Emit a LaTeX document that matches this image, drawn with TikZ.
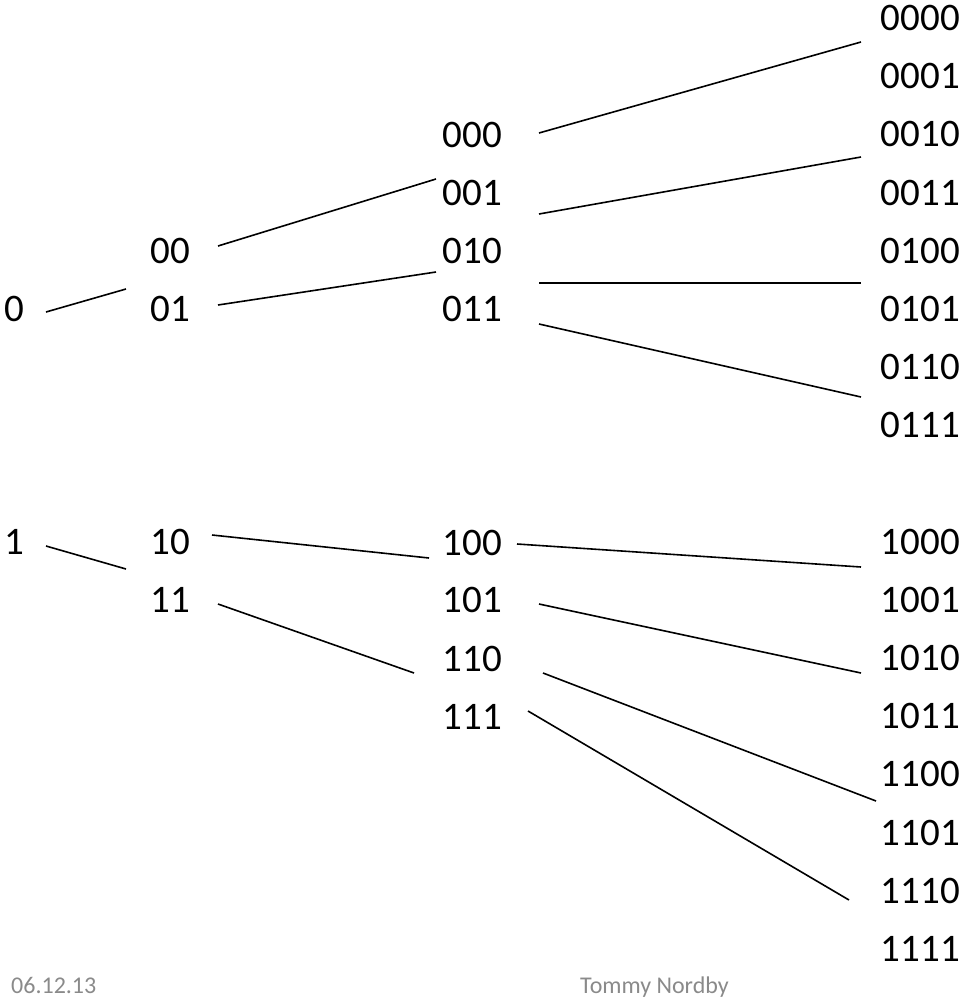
\documentclass[tikz,border=0pt]{standalone}
\usepackage{fontspec}
\setmainfont{Carlito}
\definecolor{footgray}{HTML}{8A8A8A}
\begin{document}
\begin{tikzpicture}[x=1pt,y=-1pt,
  lbl/.style={anchor=east, inner sep=0pt, font=\fontsize{39}{47}\selectfont},
  edge/.style={line width=1.6pt},
  foot/.style={inner sep=0pt, anchor=base west, text=footgray, font=\fontsize{24}{28}\selectfont}]
\useasboundingbox (0,0) rectangle (960,999);
% column 1
\node[lbl] (n0) at (24,309) {0};
\node[lbl] (n1) at (24,542) {1};
% column 2
\node[lbl] (n00) at (190,251) {00};
\node[lbl] (n01) at (190,309) {01};
\node[lbl] (n10) at (190,542) {10};
\node[lbl] (n11) at (190,600) {11};
% column 3
\node[lbl] (n000) at (502,134.5) {000};
\node[lbl] (n001) at (502,192.5) {001};
\node[lbl] (n010) at (502,250.5) {010};
\node[lbl] (n011) at (502,309) {011};
\node[lbl] (n100) at (502,542.5) {100};
\node[lbl] (n101) at (502,600) {101};
\node[lbl] (n110) at (502,659) {110};
\node[lbl] (n111) at (502,716.5) {111};
% column 4
\foreach \t [count=\i from 0] in {0000,0001,0010,0011,0100,0101,0110,0111}
  \node[lbl] (r\t) at (960,18+58.2*\i) {\t};
\foreach \t [count=\i from 0] in {1000,1001,1010,1011,1100,1101,1110,1111}
  \node[lbl] (r\t) at (960,542+58.1*\i) {\t};
% footer
\node[foot] (date) at (11,993) {06.12.13};
\node[foot] (author) at (580,993) {Tommy Nordby};
% connector end points
\coordinate (a1) at (46,312);  \coordinate (b1) at (126,289);
\coordinate (a2) at (218,246); \coordinate (b2) at (436,179);
\coordinate (a3) at (218,305); \coordinate (b3) at (436,272);
\coordinate (a4) at (539,133); \coordinate (b4) at (861,42);
\coordinate (a5) at (539,214); \coordinate (b5) at (861,157);
\coordinate (a6) at (539,283); \coordinate (b6) at (861,283);
\coordinate (a7) at (539,324); \coordinate (b7) at (861,397);
\coordinate (a8) at (46,546);  \coordinate (b8) at (126,569);
\coordinate (a9) at (212,535); \coordinate (b9) at (429,558);
\coordinate (a10) at (218,604); \coordinate (b10) at (414,673);
\coordinate (a11) at (517,544); \coordinate (b11) at (861,567);
\coordinate (a12) at (539,604); \coordinate (b12) at (861,673);
\coordinate (a13) at (543,673); \coordinate (b13) at (876,801);
\coordinate (a14) at (528,711); \coordinate (b14) at (849,900);
\foreach \k in {1,...,14}
  \draw[edge] (a\k) -- (b\k);
\end{tikzpicture}
\end{document}
